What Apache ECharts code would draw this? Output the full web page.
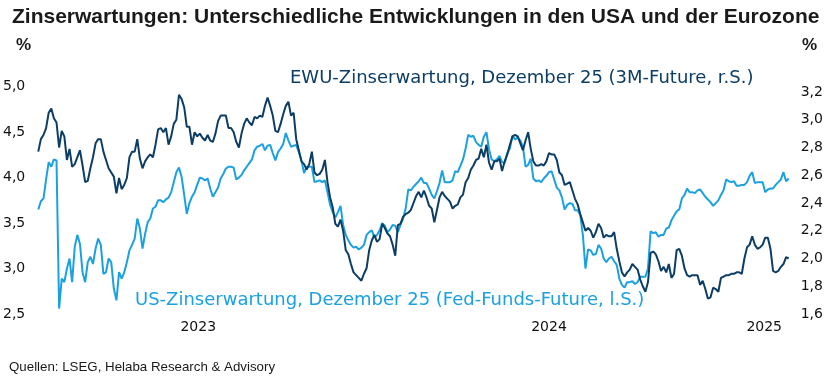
<!DOCTYPE html>
<html><head><meta charset="utf-8">
<script src="https://cdn.jsdelivr.net/npm/echarts@6/dist/echarts.min.js"></script>
<style>html,body{margin:0;padding:0;background:#fff;}#c{width:826px;height:382px;}</style>
</head><body><div id="c"></div>
<script>
// ---- data ----
const startDate = [2023, 1, 28];   // 28 Feb 2023 (UTC)
const stepDays = 2.5;
const yearLabels = [2023, 2024, 2025];
const leftTicks = { min: 2.5, max: 5.0, step: 0.5 };
const rightTicks = { min: 1.6, max: 3.2, step: 0.2 };

// US-Zinserwartung, Dezember 25 (Fed-Funds-Future), linke Skala
const usValues = [
3.65,3.74,3.77,3.98,4.17,4.12,4.20,4.19,2.56,2.89,2.85,3.00,3.11,2.85,3.24,3.37,3.27,2.96,2.85,3.07,3.13,3.05,3.22,3.33,
3.26,2.94,2.96,3.11,3.07,2.78,2.65,2.96,2.89,2.96,3.07,3.20,3.26,3.33,3.55,3.44,3.22,3.38,3.51,3.55,3.66,3.68,3.75,3.75,
3.73,3.76,3.78,3.84,3.95,4.06,4.11,4.01,3.81,3.60,3.72,3.79,3.84,3.92,4.00,3.99,3.97,3.99,3.88,3.79,3.84,3.89,3.99,4.04,
4.10,4.12,4.12,4.11,3.98,4.00,4.03,4.08,4.12,4.16,4.20,4.30,4.34,4.35,4.37,4.30,4.35,4.36,4.27,4.19,4.28,4.32,4.37,4.49,
4.41,4.34,4.35,4.36,4.28,4.19,4.05,4.12,4.12,4.12,3.95,3.96,3.97,3.95,3.97,3.84,3.70,3.62,3.56,3.62,3.69,3.48,3.37,3.31,
3.26,3.23,3.24,3.21,3.23,3.26,3.37,3.40,3.42,3.34,3.37,3.42,3.50,3.47,3.40,3.43,3.48,3.47,3.40,3.48,3.55,3.66,3.87,3.86,
3.90,3.93,3.96,4.00,3.94,3.94,3.88,3.81,3.77,3.85,3.94,4.08,3.95,3.95,3.95,3.97,4.07,4.06,4.13,4.20,4.32,4.47,4.45,4.46,
4.39,4.36,4.34,4.45,4.50,4.31,4.20,4.18,4.20,4.24,4.17,4.16,4.27,4.32,4.46,4.42,4.44,4.41,4.34,4.12,4.14,4.21,3.99,3.96,
3.97,3.95,3.99,4.02,4.06,4.07,3.98,3.89,3.86,3.78,3.65,3.70,3.72,3.71,3.64,3.64,3.59,3.37,3.00,3.21,3.20,3.15,3.16,3.26,
3.22,3.11,3.07,3.11,3.13,3.08,3.04,2.89,2.82,2.79,2.85,2.85,2.86,2.83,2.85,2.91,2.91,2.91,3.00,3.41,3.39,3.40,3.35,3.37,
3.37,3.44,3.45,3.53,3.58,3.63,3.65,3.77,3.81,3.88,3.84,3.84,3.83,3.86,3.87,3.83,3.79,3.76,3.73,3.69,3.72,3.75,3.81,3.86,
3.98,3.96,3.95,3.96,3.91,3.91,3.92,3.92,3.95,4.02,4.06,3.94,3.95,3.95,3.95,3.84,3.87,3.88,3.88,3.92,3.95,3.98,4.06,3.96,3.99
];
// EWU-Zinserwartung, Dezember 25 (3M-Future), rechte Skala
const ewuValues = [
2.77,2.86,2.89,2.94,3.05,3.08,3.01,2.98,2.80,2.92,2.88,2.71,2.79,2.66,2.68,2.73,2.78,2.67,2.55,2.56,2.65,2.73,2.83,2.86,
2.86,2.77,2.71,2.65,2.62,2.59,2.47,2.58,2.50,2.53,2.58,2.73,2.77,2.77,2.86,2.72,2.65,2.70,2.73,2.75,2.73,2.82,2.93,2.94,
2.91,2.94,2.82,2.88,2.97,3.00,3.18,3.15,3.09,2.95,2.95,2.82,2.91,2.88,2.90,2.87,2.85,2.89,2.85,2.84,2.90,2.99,3.03,3.03,
3.03,2.94,2.94,2.91,2.84,2.80,2.90,2.97,3.01,2.98,2.96,3.02,3.01,3.03,3.02,3.10,3.16,3.10,3.03,2.92,2.91,2.97,3.04,3.10,
3.13,3.03,3.05,2.86,2.78,2.70,2.68,2.64,2.68,2.77,2.62,2.60,2.61,2.64,2.71,2.55,2.44,2.37,2.25,2.23,2.28,2.20,2.06,2.03,
1.96,1.90,1.88,1.86,1.84,1.89,1.93,2.06,2.13,2.17,2.12,2.14,2.25,2.22,2.18,2.16,2.10,2.02,2.24,2.25,2.30,2.32,2.33,2.35,
2.40,2.45,2.48,2.44,2.49,2.44,2.38,2.36,2.26,2.35,2.44,2.48,2.45,2.43,2.41,2.36,2.38,2.39,2.44,2.46,2.55,2.58,2.64,2.67,
2.71,2.72,2.79,2.73,2.82,2.69,2.64,2.70,2.70,2.72,2.63,2.70,2.75,2.82,2.88,2.89,2.88,2.83,2.78,2.85,2.91,2.79,2.70,2.67,
2.67,2.68,2.67,2.70,2.76,2.75,2.75,2.71,2.62,2.60,2.53,2.54,2.55,2.49,2.43,2.39,2.32,2.26,2.20,2.22,2.20,2.15,2.19,2.25,
2.22,2.15,2.17,2.16,2.16,2.19,2.07,1.98,1.90,1.87,1.90,1.92,1.96,1.94,1.92,1.85,1.80,1.76,1.83,2.04,2.05,2.03,1.98,1.91,
1.94,1.90,1.96,1.86,1.89,2.06,2.07,2.02,1.93,1.88,1.87,1.88,1.88,1.88,1.81,1.84,1.78,1.71,1.72,1.79,1.78,1.76,1.86,1.87,
1.88,1.88,1.89,1.89,1.90,1.90,1.89,2.00,2.08,2.10,2.16,2.10,2.07,2.08,2.10,2.15,2.15,2.07,1.91,1.90,1.91,1.94,1.96,2.01,2.00
];

// ---- build ----
const DAY = 86400000;
const t0 = Date.UTC(startDate[0], startDate[1], startDate[2]);
const dates = usValues.map((_, i) => t0 + i * stepDays * DAY);
const tEnd = dates[dates.length - 1];
const usData = usValues.map((v, i) => [dates[i], v]);
const ewuData = ewuValues.map((v, i) => [dates[i], v]);
const yearMids = yearLabels.map(y => {
  const a = Math.max(t0, Date.UTC(y, 0, 1));
  const b = Math.min(tEnd, Date.UTC(y + 1, 0, 1));
  return (a + b) / 2;
});

const DARK = '#0c3d65';
const LIGHT = '#1ba0e0';
const FONT = '"DejaVu Sans", Verdana, sans-serif';
const SANS = '"Liberation Sans", Arial, sans-serif';
const COND = '"Liberation Sans Narrow", "Liberation Sans", sans-serif';
const fmt = v => v.toFixed(1).replace('.', ',');

const chart = echarts.init(document.getElementById('c'), null, { renderer: 'canvas' });
chart.setOption({
  animation: false,
  backgroundColor: '#fff',
  title: {
    text: 'Zinserwartungen: Unterschiedliche Entwicklungen in den USA und der Eurozone',
    left: 7, top: 2,
    textStyle: { fontFamily: SANS, fontWeight: 'bold', fontSize: 21, color: '#1a1a1a' }
  },
  grid: { left: 37, right: 37.3, top: 86.7, bottom: 68 },
  xAxis: {
    type: 'value', min: t0, max: tEnd,
    axisLine: { show: false }, axisTick: { show: false }, splitLine: { show: false },
    axisLabel: {
      customValues: yearMids,
      formatter: v => String(new Date(v).getUTCFullYear()),
      color: '#111', fontFamily: FONT, fontSize: 14, margin: 6
    }
  },
  yAxis: [
    {
      type: 'value', position: 'left',
      min: leftTicks.min, max: leftTicks.max, interval: leftTicks.step,
      axisLine: { show: false }, axisTick: { show: false }, splitLine: { show: false },
      axisLabel: { formatter: fmt, color: '#111', fontFamily: FONT, fontSize: 14, margin: 13 }
    },
    {
      type: 'value', position: 'right',
      min: rightTicks.min, max: 3.238, interval: rightTicks.step,
      axisLine: { show: false }, axisTick: { show: false }, splitLine: { show: false },
      axisLabel: {
        formatter: v => (Math.abs(v / rightTicks.step - Math.round(v / rightTicks.step)) > 1e-6 || v > rightTicks.max + 1e-9) ? '' : fmt(v),
        color: '#111', fontFamily: FONT, fontSize: 14, margin: 12
      }
    }
  ],
  series: [
    {
      name: 'US', type: 'line', yAxisIndex: 0, data: usData, showSymbol: false,
      lineStyle: { color: LIGHT, width: 2 }, itemStyle: { color: LIGHT }, z: 2
    },
    {
      name: 'EWU', type: 'line', yAxisIndex: 1, data: ewuData, showSymbol: false,
      lineStyle: { color: DARK, width: 2 }, itemStyle: { color: DARK }, z: 3
    }
  ],
  graphic: [
    { type: 'text', x: 16, y: 45, style: { text: '%', fill: '#1a1a1a', font: 'bold 17px ' + COND, textVerticalAlign: 'middle' } },
    { type: 'text', x: 802, y: 45, style: { text: '%', fill: '#1a1a1a', font: 'bold 17px ' + COND, textVerticalAlign: 'middle' } },
    { type: 'text', x: 290, y: 78, style: { text: 'EWU-Zinserwartung, Dezember 25 (3M-Future, r.S.)', fill: DARK, font: '18px ' + FONT, textVerticalAlign: 'middle' } },
    { type: 'text', x: 135, y: 300, style: { text: 'US-Zinserwartung, Dezember 25 (Fed-Funds-Future, l.S.)', fill: LIGHT, font: '18px ' + FONT, textVerticalAlign: 'middle' } },
    { type: 'text', x: 9, y: 367, style: { text: 'Quellen: LSEG, Helaba Research & Advisory', fill: '#1a1a1a', font: '13.3px ' + SANS, textVerticalAlign: 'middle' } }
  ]
});
</script>
</body></html>
